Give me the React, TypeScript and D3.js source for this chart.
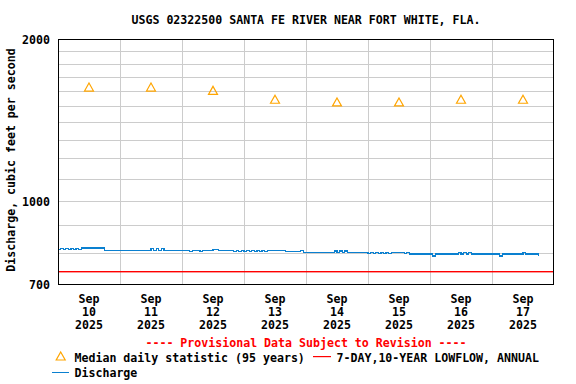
import React from "react";
import * as d3 from "d3";

const TITLE = "USGS 02322500 SANTA FE RIVER NEAR FORT WHITE, FLA.";
const Y_LABEL = "Discharge, cubic feet per second";
const Y_TICKS = [700, 1000, 2000];
const Y_GRID = [800, 900, 1000, 1100, 1200, 1300, 1400, 1500, 1600, 1700, 1800, 1900];
const DAYS = ["10", "11", "12", "13", "14", "15", "16", "17"];
const MONTH = "Sep";
const YEAR = "2025";
const MEDIAN = [1628, 1628, 1605, 1545, 1527, 1527, 1545, 1545];
const LOWFLOW = 737;
// hourly discharge starting 2025-09-10 00:00
const DISCHARGE = [
  811, 815, 811, 815, 811, 815, 811, 815, 811,
  817, 817, 817, 817, 817, 817, 817, 817, 817,
  809, 809, 809, 809, 809, 809, 809, 809, 809, 809, 809, 809, 809, 809, 809, 809, 809,
  809, 814, 809, 814, 809, 814, 809,
  808, 808, 808, 808, 808, 808, 808, 808, 808,
  805,
  808, 808, 808,
  805,
  808, 808, 808, 808,
  812, 812,
  807, 807, 807, 807, 807, 807,
  804, 807, 804, 807, 804, 807, 804, 807, 804, 807, 804, 807, 804, 807,
  807, 807, 807, 807, 807, 807,
  805, 805, 805, 805, 805, 805,
  808,
  802, 802, 802, 802, 802, 802, 802, 802, 802, 802, 802, 802,
  806, 802, 806, 802, 806,
  802, 802, 802, 802, 802, 802, 802, 802,
  798, 802, 798, 802, 798, 802, 798, 802, 798, 802,
  802, 802, 802, 802, 798, 802,
  796, 796, 796, 796, 796, 796, 796, 796, 796,
  789,
  796, 796, 796, 796, 796, 796, 796, 796, 796,
  800, 796, 800, 796, 800, 796,
  796, 796, 796, 796, 796, 796, 796, 796, 796, 796,
  789,
  796, 796, 796, 796, 796, 796, 796, 796,
  800,
  796, 796, 796, 796, 796,
  789,
];

const START = Date.UTC(2025, 8, 10);
const END = Date.UTC(2025, 8, 18);
const HOUR = 3600 * 1000;
const DAY = 24 * HOUR;

const FONT = "'DejaVu Sans Mono', monospace";

export default function App() {
  const W = 576, H = 384;
  const L = 58, R = 554, T = 39, B = 284;
  const x = d3.scaleUtc().domain([START, END]).range([L, R]);
  const y = d3.scaleLog().domain([700, 2000]).range([B, T]);

  const line = d3
    .line<number>()
    .x((_, i) => x(START + i * HOUR))
    .y((d) => y(d))
    .curve(d3.curveStepAfter);

  const dayEdges = d3.range(1, DAYS.length).map((i) => x(START + i * DAY));
  const tri = (cx: number, cy: number) =>
    `M${cx},${cy - 4}L${cx + 4.5},${cy + 4}L${cx - 4.5},${cy + 4}Z`;

  const textStyle = { fontFamily: FONT, fontWeight: "bold" as const, fontSize: 11.6 };
  const lowY = Math.floor(y(LOWFLOW));

  return (
    <svg width={W} height={H} style={{ position: "absolute", left: 0, top: 0, background: "#fff" }}>
      <rect x={0} y={0} width={W} height={H} fill="#fff" />
      <text x={306} y={20} textAnchor="middle" dominantBaseline="central" {...textStyle} fill="#000">
        {TITLE}
      </text>
      {/* grid */}
      <g stroke="#cccccc" strokeWidth={1} shapeRendering="crispEdges">
        {Y_GRID.map((v) => (
          <line key={"h" + v} x1={L} x2={R} y1={Math.round(y(v)) + 0.5} y2={Math.round(y(v)) + 0.5} />
        ))}
        {dayEdges.map((px, i) => (
          <line key={"v" + i} x1={Math.round(px) + 0.5} x2={Math.round(px) + 0.5} y1={T} y2={B} />
        ))}
      </g>
      {/* discharge */}
      <path d={line(DISCHARGE) || ""} fill="none" stroke="#0a80d0" strokeWidth={1.2} shapeRendering="crispEdges" />
      {/* lowflow */}
      <rect x={L} y={lowY} width={R - L} height={1.4} fill="#ff0000" stroke="none" />
      {/* median */}
      {MEDIAN.map((v, i) => (
        <path key={"m" + i} d={tri(x(START + i * DAY + DAY / 2), y(v))} fill="none" stroke="#ffa500" strokeWidth={1.2} />
      ))}
      {/* frame */}
      <rect x={L + 0.5} y={T + 0.5} width={R - L - 1} height={B - T} fill="none" stroke="#000" strokeWidth={1.2} shapeRendering="crispEdges" />
      {/* y ticks */}
      {Y_TICKS.map((v) => (
        <text key={"yt" + v} x={50} y={y(v) + 1} textAnchor="end" dominantBaseline="central" {...textStyle} fill="#000">
          {String(v)}
        </text>
      ))}
      <text
        transform={`translate(11,160) rotate(-90)`}
        textAnchor="middle"
        dominantBaseline="central"
        {...textStyle}
        fill="#000"
      >
        {Y_LABEL}
      </text>
      {/* x labels */}
      {DAYS.map((d, i) => {
        const cx = x(START + i * DAY + DAY / 2);
        return (
          <g key={"xd" + i} {...textStyle} fill="#000">
            <text x={cx} y={298.5} textAnchor="middle" dominantBaseline="central">{MONTH}</text>
            <text x={cx} y={311.5} textAnchor="middle" dominantBaseline="central">{d}</text>
            <text x={cx} y={324.5} textAnchor="middle" dominantBaseline="central">{YEAR}</text>
          </g>
        );
      })}
      <text x={306} y={343} textAnchor="middle" dominantBaseline="central" {...textStyle} fill="#ff0000">
        ---- Provisional Data Subject to Revision ----
      </text>
      {/* legend */}
      <path d={tri(60.7, 356)} fill="none" stroke="#ffa500" strokeWidth={1.2} />
      <text x={74.5} y={357.5} dominantBaseline="central" {...textStyle} fill="#000">
        Median daily statistic (95 years)
      </text>
      <rect x={313} y={356} width={18} height={1.2} fill="#ff0000" />
      <text x={336.5} y={357.5} dominantBaseline="central" {...textStyle} fill="#000">
        7-DAY,10-YEAR LOWFLOW, ANNUAL
      </text>
      <line x1={51.5} x2={69} y1={372.5} y2={372.5} stroke="#0a80d0" strokeWidth={1.2} shapeRendering="crispEdges" />
      <text x={74.5} y={373} dominantBaseline="central" {...textStyle} fill="#000">
        Discharge
      </text>
    </svg>
  );
}
